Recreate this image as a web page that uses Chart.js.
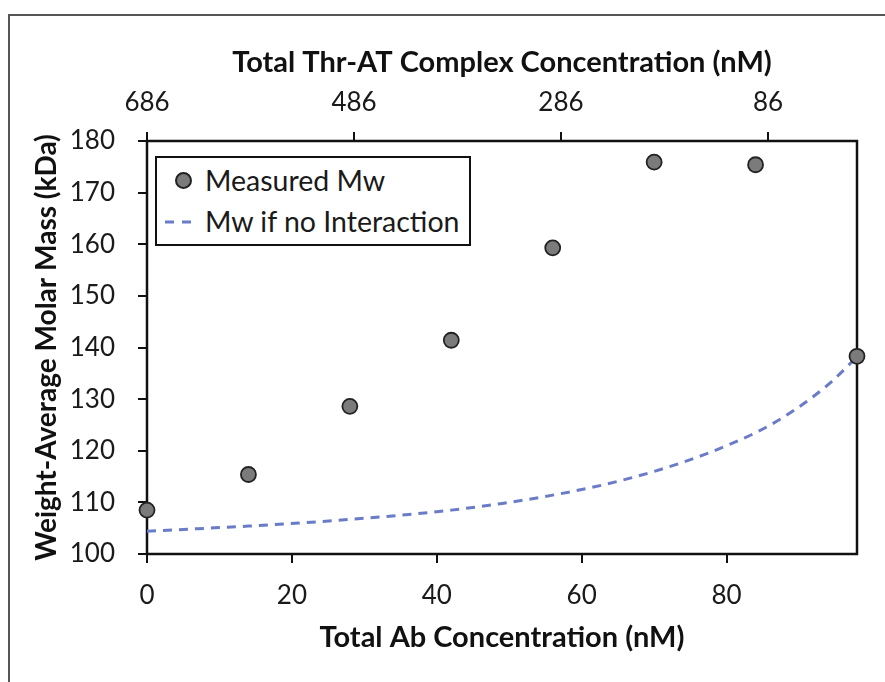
<!DOCTYPE html>
<html>
<head>
<meta charset="utf-8">
<script src="https://cdn.jsdelivr.net/npm/chart.js@4"></script>
<style>
html,body{margin:0;padding:0;background:#fff;}
#wrap{position:relative;width:885px;height:682px;overflow:hidden;background:#fff;}
#frame{position:absolute;left:8px;top:14px;width:950px;height:750px;border-left:2px solid #555;border-top:2px solid #555;}
#c{position:absolute;left:0;top:0;}
#legend{position:absolute;left:155px;top:156px;width:312px;height:86px;border:2px solid #111;background:#fff;font-family:Lato, sans-serif;font-size:28.5px;color:#1a1a1a;}
.row{position:absolute;left:0;height:32px;line-height:32px;white-space:nowrap;}
.row .txt{position:absolute;left:48px;top:0;}
.dot{position:absolute;left:18px;top:8px;width:13px;height:13px;border-radius:50%;background:#7b7b7b;border:2px solid #222;}
.dash{position:absolute;left:8px;top:15px;}
</style>
</head>
<body>
<div id="wrap">
  <div id="frame"></div>
  <canvas id="c" width="885" height="682"></canvas>
  <div id="legend">
    <div class="row" style="top:6px;width:300px"><span class="dot"></span><span class="txt">Measured Mw</span></div>
    <div class="row" style="top:47px;width:300px"><svg class="dash" width="32" height="4"><line x1="0" y1="2" x2="32" y2="2" stroke="#6a7cc8" stroke-width="3" stroke-dasharray="9,8"/></svg><span class="txt">Mw if no Interaction</span></div>
  </div>
</div>
<script>
// ---- data ----
const abConc = [0, 14, 28, 42, 56, 70, 84, 98];
const measuredMw = [108.5, 115.4, 128.6, 141.4, 159.3, 175.9, 175.4, 138.3];
const curveAb = [0, 7, 14, 21, 28, 35, 42, 49, 56, 63, 70, 77, 84, 87.5, 91, 94.5, 98];
const curveMw = [104.4, 104.9, 105.4, 106.0, 106.7, 107.5, 108.5, 109.8, 111.4, 113.4, 116.0, 119.3, 123.5, 126.2, 129.5, 133.4, 138.2];
const bottomTickLabels = [0, 20, 40, 60, 80];
const topTickLabels = [686, 486, 286, 86];
const seriesNames = ['Measured Mw', 'Mw if no Interaction'];
const xTitle = 'Total Ab Concentration (nM)';
const topTitle = 'Total Thr-AT Complex Concentration (nM)';
const yTitle = 'Weight-Average Molar Mass (kDa)';

const tickFont = {family: 'Lato', size: 26};
const titleFont = {family: 'Lato', size: 29, weight: 'bold'};
const yTitleFont = {family: 'Lato', size: 28, weight: 'bold'};
const txtColor = '#1a1a1a';

const framePlugin = {
  id: 'frame',
  beforeDatasetsDraw(chart) {
    const a = chart.chartArea, ctx = chart.ctx;
    ctx.save();
    ctx.strokeStyle = '#111';
    ctx.lineWidth = 2.5;
    ctx.strokeRect(a.left, a.top, a.right - a.left, a.bottom - a.top);
    ctx.restore();
  }
};

const tickGrid = {display: true, drawOnChartArea: false, drawTicks: true, tickLength: 9, color: '#111', lineWidth: 2};

new Chart(document.getElementById('c'), {
  type: 'scatter',
  data: {
    datasets: [
      {
        label: seriesNames[0],
        data: abConc.map((x, i) => ({x, y: measuredMw[i]})),
        backgroundColor: '#7b7b7b',
        borderColor: '#222',
        borderWidth: 1.8,
        pointRadius: 7.5,
        clip: false,
        xAxisID: 'x', yAxisID: 'y'
      },
      {
        type: 'line',
        label: seriesNames[1],
        data: curveAb.map((x, i) => ({x, y: curveMw[i]})),
        borderColor: '#6a7cc8',
        borderWidth: 3,
        borderDash: [9, 7],
        pointRadius: 0,
        fill: false,
        cubicInterpolationMode: 'monotone',
        xAxisID: 'x', yAxisID: 'y'
      }
    ]
  },
  options: {
    responsive: false,
    animation: false,
    devicePixelRatio: 1,
    layout: {padding: {left: 0, right: 28, top: 0, bottom: 0}},
    plugins: {legend: {display: false}, tooltip: {enabled: false}},
    scales: {
      x: {
        type: 'linear', position: 'bottom', min: 0, max: 98,
        afterBuildTicks(s) { s.ticks = bottomTickLabels.map(v => ({value: v})); },
        ticks: {font: tickFont, color: txtColor, padding: 17, maxRotation: 0},
        grid: tickGrid,
        border: {display: false},
        title: {display: true, text: xTitle, font: titleFont, color: '#111', padding: {top: 0, bottom: 27}},
        afterFit(s) { s.height = 128; }
      },
      x2: {
        type: 'linear', position: 'top', min: 0, max: 686, reverse: true,
        afterBuildTicks(s) { s.ticks = topTickLabels.map(v => ({value: v})); },
        ticks: {font: tickFont, color: txtColor, padding: 14, maxRotation: 0},
        grid: tickGrid,
        border: {display: false},
        title: {display: true, text: topTitle, font: titleFont, color: '#111', padding: {top: 45, bottom: 0}},
        afterFit(s) { s.height = 141; }
      },
      y: {
        type: 'linear', position: 'left', min: 100, max: 180,
        ticks: {stepSize: 10, font: tickFont, color: txtColor, padding: 23},
        grid: tickGrid,
        border: {display: false},
        title: {display: true, text: yTitle, font: yTitleFont, color: '#111', padding: {top: 30, bottom: 0}},
        afterFit(s) { s.width = 147; }
      }
    }
  },
  plugins: [framePlugin]
});
</script>
</body>
</html>
